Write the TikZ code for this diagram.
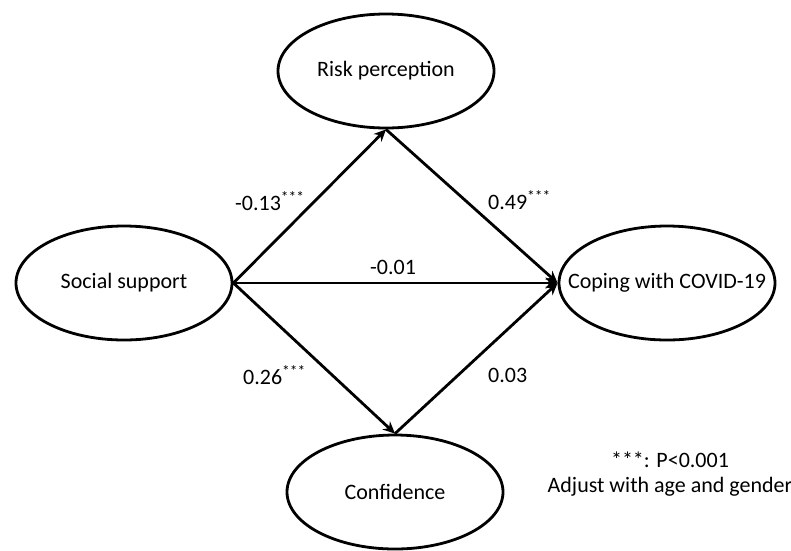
\documentclass[tikz,border=0pt]{standalone}
\usepackage{fontspec}
\setmainfont{Carlito}
\usetikzlibrary{shapes.geometric,arrows.meta}

\begin{document}
\begin{tikzpicture}[x=1pt,y=-1pt,
  construct/.style={draw, ellipse, line width=2.8pt, minimum width=216pt,
    minimum height=114pt, inner sep=0pt, font=\fontsize{22}{26}\selectfont},
  effect/.style={line width=2.8pt, -{Stealth[length=12pt,width=11pt]}},
  coef/.style={anchor=base west, inner sep=0pt, font=\fontsize{22}{26}\selectfont}]
\useasboundingbox (0,0) rectangle (791,550);
\node[construct] (risk) at (386,71) {\makebox[0pt]{Risk perception}};
\node[construct] (social) at (124,283) {\makebox[0pt]{Social support}};
\node[construct] (coping) at (667,283) {\makebox[0pt]{Coping with COVID-19}};
\node[construct] (conf) at (395,492) {\makebox[0pt]{Confidence}};
\draw[effect] (social.east) -- (risk.south);
\draw[effect] (risk.south) -- (coping.west);
\draw[effect] (social.east) -- (coping.west);
\draw[effect] (social.east) -- (conf.north);
\draw[effect] (conf.north) -- (coping.west);
\node[coef] (a) at (235,210) {-0.13\textsuperscript{***}};
\node[coef] (b) at (488,209) {0.49\textsuperscript{***}};
\node[coef] (c) at (370,274) {-0.01};
\node[coef] (d) at (243,384) {0.26\textsuperscript{***}};
\node[coef] (e) at (488,382) {0.03};
\node[align=center, inner sep=0pt, font=\fontsize{22}{25}\selectfont] (note) at (670,474)
  {***: P<0.001\\Adjust with age and gender};
\end{tikzpicture}
\end{document}
